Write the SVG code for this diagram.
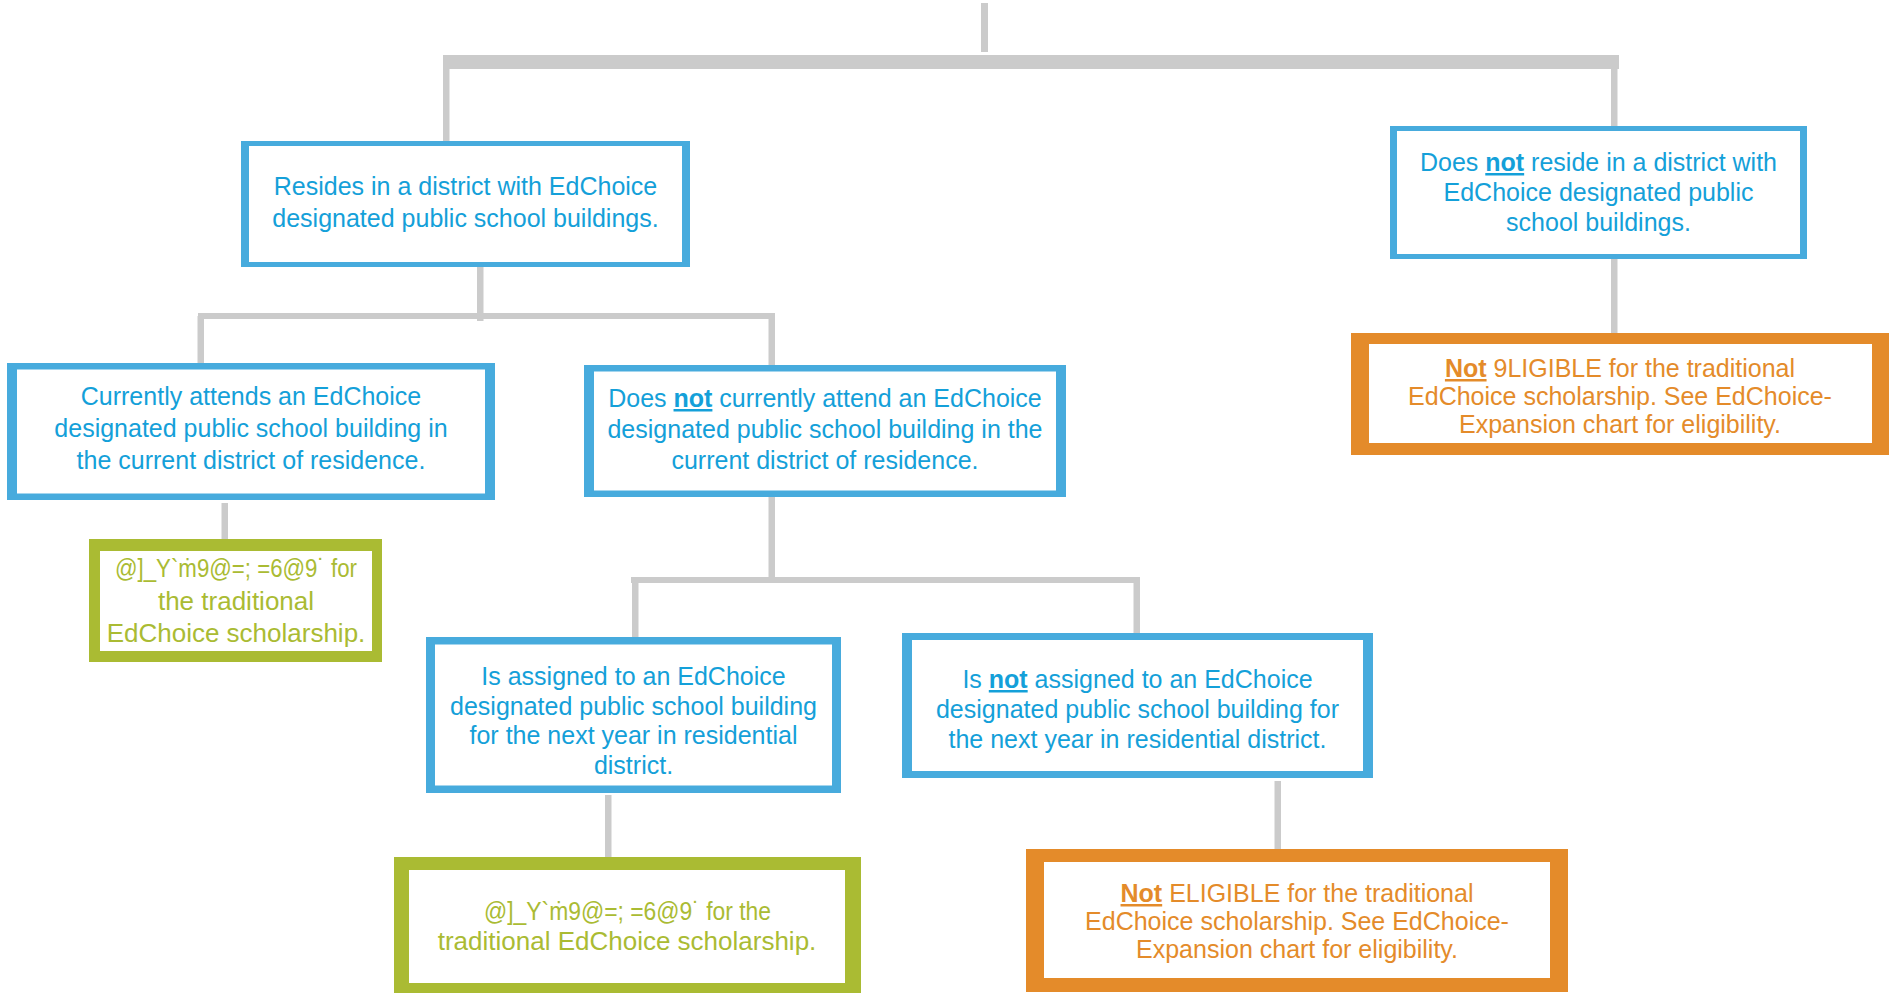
<svg xmlns="http://www.w3.org/2000/svg" width="1889" height="993" viewBox="0 0 1889 993">
<style>
text{font-family:"Liberation Sans",Arial,sans-serif;font-size:25px;text-anchor:middle}
.tb{fill:#14a0d9}
.to{fill:#e48b2a}
.tg{fill:#aabb33;font-size:26px}
.b{font-weight:bold;text-decoration:underline}
.ob{fill:#47abdd}
.oo{fill:#e48b2a}
.og{fill:#aabb33}
.in{fill:#ffffff}
.ln{fill:#cbcbcb}
</style>
<rect width="1889" height="993" fill="#ffffff"/>
<g id="connectors">
<rect class="ln" x="981" y="3" width="7" height="49"/>
<rect class="ln" x="443" y="55" width="1176" height="14"/>
<rect class="ln" x="443" y="62" width="6.5" height="79"/>
<rect class="ln" x="1611" y="62" width="6.5" height="64"/>
<rect class="ln" x="477" y="267" width="6.5" height="54"/>
<rect class="ln" x="198" y="313" width="577" height="6"/>
<rect class="ln" x="197.5" y="316" width="6.5" height="47"/>
<rect class="ln" x="768.5" y="316" width="6.5" height="49"/>
<rect class="ln" x="221.5" y="503" width="6.5" height="36"/>
<rect class="ln" x="768.5" y="497" width="6.5" height="86"/>
<rect class="ln" x="631" y="577" width="509" height="6"/>
<rect class="ln" x="632" y="580" width="6.5" height="57"/>
<rect class="ln" x="1133.5" y="580" width="6.5" height="53"/>
<rect class="ln" x="605" y="795" width="6.5" height="62"/>
<rect class="ln" x="1274.5" y="781" width="6.5" height="68"/>
<rect class="ln" x="1611" y="259" width="6.5" height="74"/>
</g>
<g id="resides">
<rect class="ob" x="241" y="141" width="449" height="126"/>
<rect class="in" x="249" y="146" width="433" height="116"/>
<text class="tb" x="465.5" y="195">Resides in a district with EdChoice</text>
<text class="tb" x="465.5" y="227">designated public school buildings.</text>
</g>
<g id="not-reside">
<rect class="ob" x="1390" y="126" width="417" height="133"/>
<rect class="in" x="1397" y="131" width="403" height="123"/>
<text class="tb" x="1598.5" y="171">Does <tspan class="b">not</tspan> reside in a district with</text>
<text class="tb" x="1598.5" y="201">EdChoice designated public</text>
<text class="tb" x="1598.5" y="231">school buildings.</text>
</g>
<g id="not-eligible-1">
<rect class="oo" x="1351" y="333" width="544" height="122"/>
<rect class="in" x="1369" y="344" width="503" height="99"/>
<text class="to" x="1620" y="377"><tspan class="b">Not</tspan> 9LIGIBLE for the traditional</text>
<text class="to" x="1620" y="405">EdChoice scholarship. See EdChoice-</text>
<text class="to" x="1620" y="433">Expansion chart for eligibility.</text>
</g>
<g id="currently-attends">
<rect class="ob" x="7" y="363" width="488" height="137"/>
<rect class="in" x="17" y="369.5" width="468" height="124"/>
<text class="tb" x="251" y="405">Currently attends an EdChoice</text>
<text class="tb" x="251" y="437">designated public school building in</text>
<text class="tb" x="251" y="469">the current district of residence.</text>
</g>
<g id="not-currently">
<rect class="ob" x="584" y="365" width="482" height="132"/>
<rect class="in" x="594" y="371.5" width="462" height="119"/>
<text class="tb" x="825" y="407">Does <tspan class="b">not</tspan> currently attend an EdChoice</text>
<text class="tb" x="825" y="438">designated public school building in the</text>
<text class="tb" x="825" y="469">current district of residence.</text>
</g>
<g id="eligible-1">
<rect class="og" x="89" y="539" width="293" height="123"/>
<rect class="in" x="100" y="551" width="272" height="100"/>
<text class="tg" x="236" y="577" textLength="242" lengthAdjust="spacingAndGlyphs">@]_Y`ṁ9@=; =6@9˙ for</text>
<text class="tg" x="236" y="610">the traditional</text>
<text class="tg" x="236" y="642">EdChoice scholarship.</text>
</g>
<g id="assigned">
<rect class="ob" x="426" y="637" width="415" height="156"/>
<rect class="in" x="435" y="644.5" width="397" height="141"/>
<text class="tb" x="633.5" y="685">Is assigned to an EdChoice</text>
<text class="tb" x="633.5" y="715">designated public school building</text>
<text class="tb" x="633.5" y="744">for the next year in residential</text>
<text class="tb" x="633.5" y="774">district.</text>
</g>
<g id="not-assigned">
<rect class="ob" x="902" y="633" width="471" height="145"/>
<rect class="in" x="912" y="640" width="451" height="131"/>
<text class="tb" x="1137.5" y="688">Is <tspan class="b">not</tspan> assigned to an EdChoice</text>
<text class="tb" x="1137.5" y="718">designated public school building for</text>
<text class="tb" x="1137.5" y="748">the next year in residential district.</text>
</g>
<g id="eligible-2">
<rect class="og" x="394" y="857" width="467" height="140"/>
<rect class="in" x="409" y="870" width="436" height="113"/>
<text class="tg" x="627.5" y="920" textLength="287" lengthAdjust="spacingAndGlyphs">@]_Y`ṁ9@=; =6@9˙ for the</text>
<text class="tg" x="627" y="950">traditional EdChoice scholarship.</text>
</g>
<g id="not-eligible-2">
<rect class="oo" x="1026" y="849" width="542" height="143"/>
<rect class="in" x="1044" y="862" width="506" height="116"/>
<text class="to" x="1297" y="902"><tspan class="b">Not</tspan> ELIGIBLE for the traditional</text>
<text class="to" x="1297" y="930">EdChoice scholarship. See EdChoice-</text>
<text class="to" x="1297" y="958">Expansion chart for eligibility.</text>
</g>
</svg>
